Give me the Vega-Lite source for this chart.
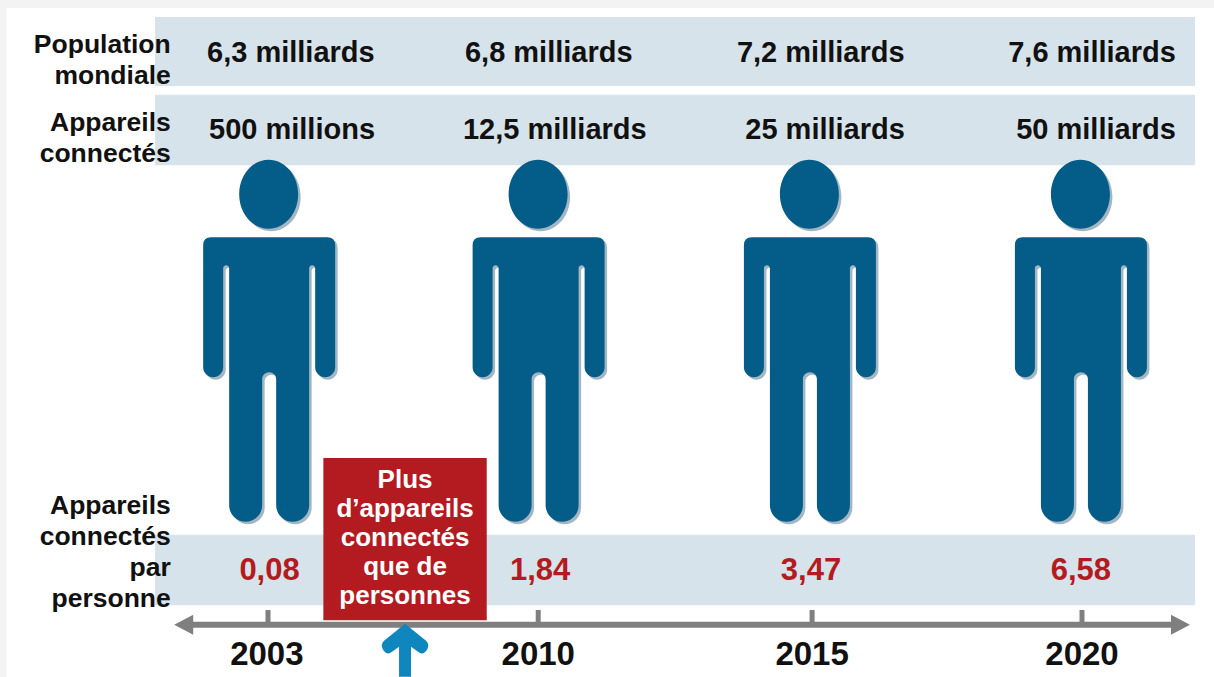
{
  "$schema": "https://vega.github.io/schema/vega-lite/v6.json",
  "width": 1214,
  "height": 677,
  "padding": 0,
  "autosize": {"type": "fit", "contains": "padding"},
  "background": "#f3f3f3",
  "config": {"view": {"stroke": null}, "text": {"font": "Liberation Sans", "fontWeight": "bold"}},
  "datasets": {
    "sheet": [{"from": 1996.17, "to": 2025, "low": 0, "high": 98.8}],
    "bands": [
      {"row": "population", "from": 2000.05, "to": 2024.28, "low": 87.3, "high": 97.5},
      {"row": "appareils", "from": 2000.05, "to": 2024.28, "low": 75.6, "high": 86},
      {"row": "par personne", "from": 2000.05, "to": 2024.28, "low": 10.6, "high": 21}
    ],
    "people": [
      {"year": 2003, "at": 2003.03},
      {"year": 2010, "at": 2009.99},
      {"year": 2015, "at": 2014.98},
      {"year": 2020, "at": 2019.98}
    ],
    "cells": [
      {"metric": "population", "year": 2003, "at": 2003.59, "label": "6,3 milliards"},
      {"metric": "population", "year": 2010, "at": 2010.18, "label": "6,8 milliards"},
      {"metric": "population", "year": 2015, "at": 2015.18, "label": "7,2 milliards"},
      {"metric": "population", "year": 2020, "at": 2020.38, "label": "7,6 milliards"},
      {"metric": "appareils", "year": 2003, "at": 2003.62, "label": "500 millions"},
      {"metric": "appareils", "year": 2010, "at": 2010.29, "label": "12,5 milliards"},
      {"metric": "appareils", "year": 2015, "at": 2015.26, "label": "25 milliards"},
      {"metric": "appareils", "year": 2020, "at": 2020.53, "label": "50 milliards"},
      {"metric": "par personne", "year": 2003, "at": 2003.04, "label": "0,08"},
      {"metric": "par personne", "year": 2010, "at": 2010.02, "label": "1,84"},
      {"metric": "par personne", "year": 2015, "at": 2015, "label": "3,47"},
      {"metric": "par personne", "year": 2020, "at": 2019.98, "label": "6,58"},
      {"metric": "annee", "year": 2003, "at": 2002.97, "label": "2003"},
      {"metric": "annee", "year": 2010, "at": 2009.98, "label": "2010"},
      {"metric": "annee", "year": 2015, "at": 2015.02, "label": "2015"},
      {"metric": "annee", "year": 2020, "at": 2020, "label": "2020"}
    ],
    "rows": [
      {"title": "Population\nmondiale", "level": 93.28},
      {"title": "Appareils\nconnectés", "level": 81.76},
      {"title": "Appareils\nconnectés\npar\npersonne", "level": 25.3}
    ],
    "callout": [{"from": 2004.43, "to": 2008.65, "low": 8.4, "high": 32.35, "middle": 2006.54, "level": 29.15,
      "label": "Plus\nd’appareils\nconnectés\nque de\npersonnes"}],
    "timeline": [{"from": 2001, "to": 2023.6, "left": 2000.55, "right": 2024.09}],
    "ticks": [{"year": 2003}, {"year": 2009.98}, {"year": 2015.02}, {"year": 2020}]
  },
  "encoding": {
    "x": {"type": "quantitative", "axis": null,
      "scale": {"domain": [1996, 2003, 2010, 2015, 2020, 2025], "range": [0, 268, 539, 811, 1082, 1214], "nice": false, "zero": false}},
    "y": {"type": "quantitative", "axis": null,
      "scale": {"domain": [0, 100], "range": [677, 0], "nice": false, "zero": false}}
  },
  "layer": [
    {
      "data": {"name": "sheet"},
      "mark": {"type": "rect", "color": "#ffffff"},
      "encoding": {
        "x": {"field": "from", "type": "quantitative"}, "x2": {"field": "to"},
        "y": {"field": "low", "type": "quantitative"}, "y2": {"field": "high"}
      }
    },
    {
      "data": {"name": "bands"},
      "mark": {"type": "rect", "color": "#d7e3ea"},
      "encoding": {
        "x": {"field": "from", "type": "quantitative"}, "x2": {"field": "to"},
        "y": {"field": "low", "type": "quantitative"}, "y2": {"field": "high"}
      }
    },
    {
      "data": {"name": "people"},
      "mark": {"type": "point", "filled": true, "size": 4, "opacity": 1, "color": "#a3b6c3", "xOffset": 2.5, "yOffset": 2.5,
        "shape": "M-58,-104 L58,-104 Q66,-104 66,-96 L66,26 A10,10 0 0 1 46,26 L46,-73 A3,3 0 0 0 40,-73 L40,164 A16.5,16.5 0 0 1 7,164 L7,38 A7,7 0 0 0 -7,38 L-7,164 A16.5,16.5 0 0 1 -40,164 L-40,-73 A3,3 0 0 0 -46,-73 L-46,26 A10,10 0 0 1 -66,26 L-66,-96 Q-66,-104 -58,-104 Z M-30,-147 A29.5,34.5 0 1 1 29,-147 A29.5,34.5 0 1 1 -30,-147 Z"},
      "encoding": {"x": {"field": "at", "type": "quantitative"}, "y": {"datum": 49.6}}
    },
    {
      "data": {"name": "people"},
      "mark": {"type": "point", "filled": true, "size": 4, "opacity": 1, "color": "#035d88",
        "shape": "M-58,-104 L58,-104 Q66,-104 66,-96 L66,26 A10,10 0 0 1 46,26 L46,-73 A3,3 0 0 0 40,-73 L40,164 A16.5,16.5 0 0 1 7,164 L7,38 A7,7 0 0 0 -7,38 L-7,164 A16.5,16.5 0 0 1 -40,164 L-40,-73 A3,3 0 0 0 -46,-73 L-46,26 A10,10 0 0 1 -66,26 L-66,-96 Q-66,-104 -58,-104 Z M-30,-147 A29.5,34.5 0 1 1 29,-147 A29.5,34.5 0 1 1 -30,-147 Z"},
      "encoding": {"x": {"field": "at", "type": "quantitative"}, "y": {"datum": 49.6}}
    },
    {
      "data": {"name": "timeline"},
      "mark": {"type": "rule", "color": "#7f7f7f", "strokeWidth": 6},
      "encoding": {"x": {"field": "from", "type": "quantitative"}, "x2": {"field": "to"}, "y": {"datum": 7.7}}
    },
    {
      "data": {"name": "ticks"},
      "mark": {"type": "rule", "color": "#7f7f7f", "strokeWidth": 5},
      "encoding": {"x": {"field": "year", "type": "quantitative"}, "y": {"datum": 9.9}, "y2": {"datum": 7.7}}
    },
    {
      "data": {"name": "timeline"},
      "mark": {"type": "point", "filled": true, "size": 4, "opacity": 1, "color": "#7f7f7f", "shape": "M0,0 L19,-10 L19,10 Z"},
      "encoding": {"x": {"field": "left", "type": "quantitative"}, "y": {"datum": 7.7}}
    },
    {
      "data": {"name": "timeline"},
      "mark": {"type": "point", "filled": true, "size": 4, "opacity": 1, "color": "#7f7f7f", "shape": "M0,0 L-19,-10 L-19,10 Z"},
      "encoding": {"x": {"field": "right", "type": "quantitative"}, "y": {"datum": 7.7}}
    },
    {
      "data": {"name": "callout"},
      "mark": {"type": "rect", "color": "#b31b20"},
      "encoding": {
        "x": {"field": "from", "type": "quantitative"}, "x2": {"field": "to"},
        "y": {"field": "low", "type": "quantitative"}, "y2": {"field": "high"}
      }
    },
    {
      "data": {"name": "callout"},
      "mark": {"type": "point", "filled": true, "size": 4, "opacity": 1, "color": "#0f86bd",
        "shape": "M0,-1 L21,16 Q25,20 22,25 Q18,31 13,27 L6,22 L6,52 L-6,52 L-6,22 L-13,27 Q-18,31 -22,25 Q-25,20 -21,16 Z"},
      "encoding": {"x": {"field": "middle", "type": "quantitative"}, "y": {"datum": 7.7}}
    },
    {
      "data": {"name": "callout"},
      "mark": {"type": "text", "color": "#ffffff", "fontSize": 26, "align": "center", "baseline": "middle", "lineBreak": "\n", "lineHeight": 29},
      "encoding": {
        "x": {"field": "middle", "type": "quantitative"},
        "y": {"field": "level", "type": "quantitative"},
        "text": {"field": "label"}
      }
    },
    {
      "data": {"name": "rows"},
      "mark": {"type": "text", "color": "#111111", "fontSize": 26.5, "align": "right", "baseline": "middle", "lineBreak": "\n", "lineHeight": 31},
      "encoding": {
        "x": {"datum": 2000.46},
        "y": {"field": "level", "type": "quantitative"},
        "text": {"field": "title"}
      }
    },
    {
      "data": {"name": "cells"},
      "transform": [{"filter": "datum.metric === 'population'"}],
      "mark": {"type": "text", "color": "#111111", "fontSize": 29, "align": "center", "baseline": "middle"},
      "encoding": {"x": {"field": "at", "type": "quantitative"}, "y": {"datum": 92.1}, "text": {"field": "label"}}
    },
    {
      "data": {"name": "cells"},
      "transform": [{"filter": "datum.metric === 'appareils'"}],
      "mark": {"type": "text", "color": "#111111", "fontSize": 29, "align": "center", "baseline": "middle"},
      "encoding": {"x": {"field": "at", "type": "quantitative"}, "y": {"datum": 80.8}, "text": {"field": "label"}}
    },
    {
      "data": {"name": "cells"},
      "transform": [{"filter": "datum.metric === 'par personne'"}],
      "mark": {"type": "text", "color": "#b31b20", "fontSize": 31, "align": "center", "baseline": "middle"},
      "encoding": {"x": {"field": "at", "type": "quantitative"}, "y": {"datum": 15.65}, "text": {"field": "label"}}
    },
    {
      "data": {"name": "cells"},
      "transform": [{"filter": "datum.metric === 'annee'"}],
      "mark": {"type": "text", "color": "#111111", "fontSize": 33, "align": "center", "baseline": "middle"},
      "encoding": {"x": {"field": "at", "type": "quantitative"}, "y": {"datum": 3.3}, "text": {"field": "label"}}
    }
  ]
}
